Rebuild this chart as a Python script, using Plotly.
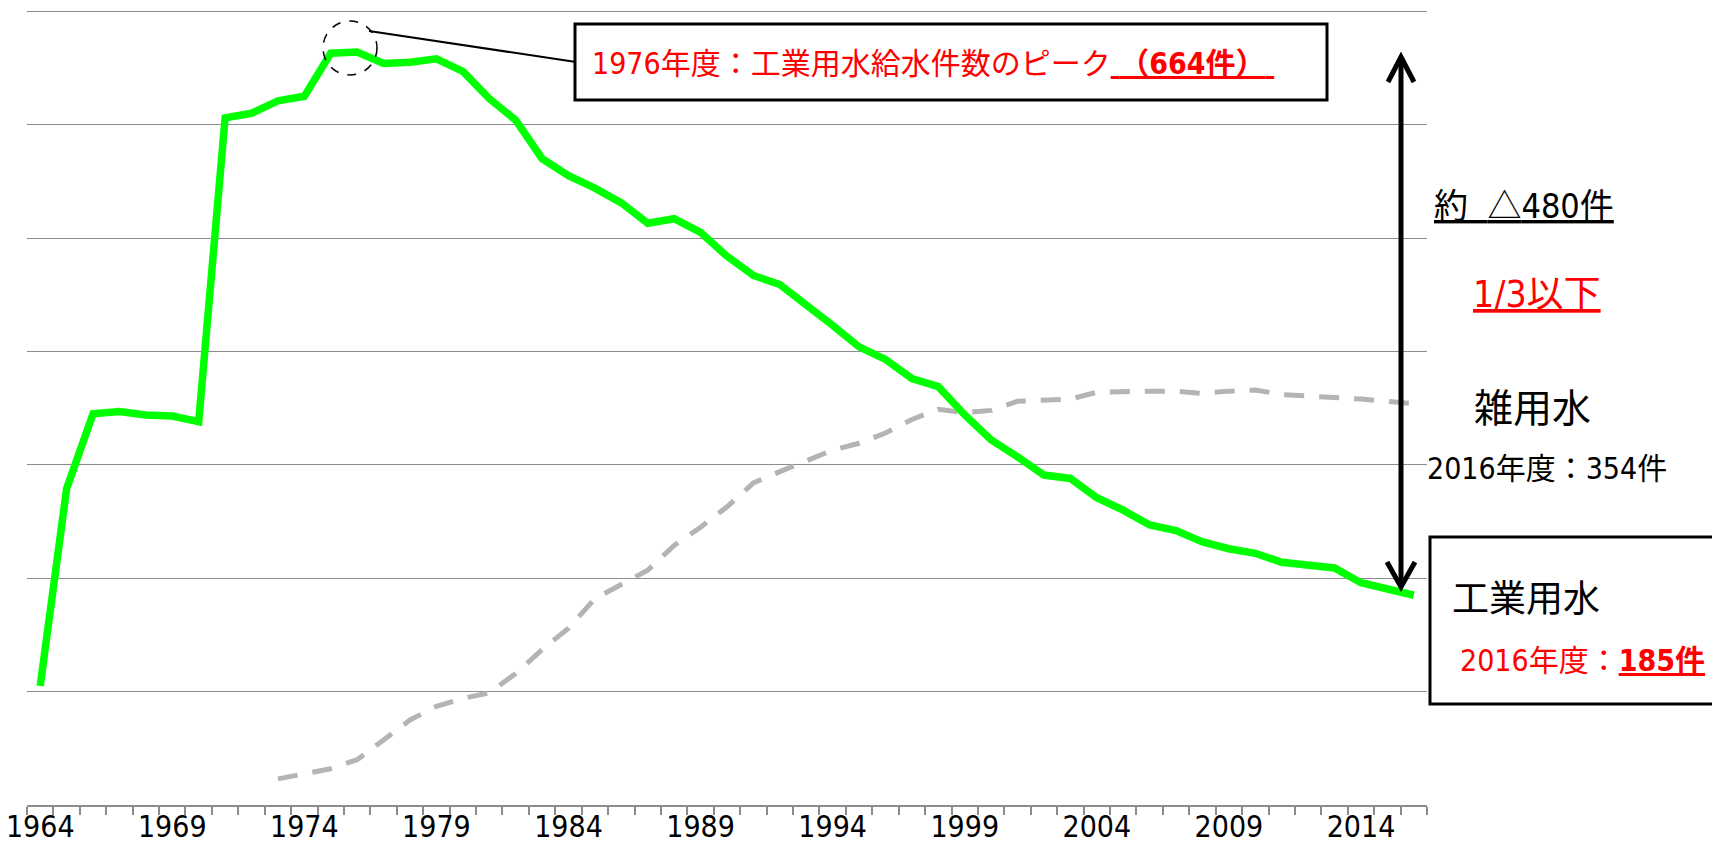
import plotly.graph_objects as go

# 年度 (fiscal years)
years = list(range(1964, 2017))

# 工業用水 給水件数
industrial = [
    105, 279, 345, 347, 344, 343, 338, 606, 610, 621,
    625, 663, 664, 654, 655, 658, 647, 623, 604, 570,
    555, 544, 531, 513, 517, 505, 484, 467, 459, 442,
    423, 404, 393, 376, 369, 344, 322, 307, 291, 288,
    271, 260, 247, 242, 232, 226, 222, 214, 211, 209,
    196, 191, 185,
]

# 雑用水 給水件数 (from 1973)
misc = [None] * 9 + [
    23, 27, 32, 40, 57, 75, 87, 94, 99, 116,
    137, 156, 182, 195, 207, 229, 245, 263, 284, 294,
    304, 313, 319, 328, 340, 349, 346, 348, 356, 357,
    358, 364, 365, 365, 365, 363, 365, 366, 362, 361,
    359, 358, 356, 354,
]

tick_years = list(range(1964, 2015, 5))

FONT = "DejaVu Sans Condensed, Noto Sans CJK JP, sans-serif"
CJK = "Noto Sans CJK JP"
GRID = "#8c8c8c"

W, H = 1712, 855
# plot area in window pixels (page body margin is removed below)
L, R, T, B = 27, 1427, 9, 805


def px(x):
    return (x - L) / (R - L)


def py(y):
    return (B - y) / (B - T)


fig = go.Figure()

fig.add_trace(go.Scatter(
    x=years, y=misc, mode="lines", name="雑用水",
    line=dict(color="#b4b4b4", width=5, dash="20px,15px"),
    connectgaps=False,
))
fig.add_trace(go.Scatter(
    x=years, y=industrial, mode="lines", name="工業用水",
    line=dict(color="#00ff00", width=7.5),
))

shapes = [
    # peak callout box
    dict(type="rect", xref="paper", yref="paper",
         x0=px(575), x1=px(1327), y0=py(100), y1=py(24),
         line=dict(color="black", width=3), fillcolor="white", layer="above"),
    # dashed circle at the peak
    dict(type="circle", xref="paper", yref="paper",
         x0=px(323), x1=px(377), y0=py(75), y1=py(21),
         line=dict(color="black", width=1.5, dash="dash"), layer="above"),
    dict(type="line", xref="paper", yref="paper",
         x0=px(369), y0=py(31), x1=px(576), y1=py(62),
         line=dict(color="black", width=2), layer="above"),
    # double arrow
    dict(type="line", xref="paper", yref="paper",
         x0=px(1401), y0=py(57), x1=px(1401), y1=py(586),
         line=dict(color="black", width=5), layer="above"),
    dict(type="path", xref="paper", yref="paper",
         path=f"M {px(1388)},{py(82)} L {px(1401)},{py(57)} L {px(1414)},{py(82)}",
         line=dict(color="black", width=5), layer="above"),
    dict(type="path", xref="paper", yref="paper",
         path=f"M {px(1387)},{py(562)} L {px(1401)},{py(587)} L {px(1415)},{py(562)}",
         line=dict(color="black", width=5), layer="above"),
    # 2016 industrial box
    dict(type="rect", xref="paper", yref="paper",
         x0=px(1430), x1=px(1716), y0=py(704), y1=py(537),
         line=dict(color="black", width=3), fillcolor="white", layer="above"),
]


def note(text, x, y, size, color="black", anchor="left"):
    return dict(text=text, xref="paper", yref="paper", x=px(x), y=py(y),
                xanchor=anchor, yanchor="middle", showarrow=False,
                font=dict(family=FONT, size=size, color=color))


annotations = [
    note("1976年度：工業用水給水件数のピーク<u>\u00a0<b>（664件）</b>\u00a0</u>",
         590, 64, 30, "red"),
    note(f"<u>約\u00a0\u00a0<span style=\"font-family:{CJK}\">△</span>480件</u>",
         1432, 203, 34),
    note("<u>1/3以下</u>", 1537, 295, 37, "red", "center"),
    note("雑用水", 1472, 408, 39),
    note("2016年度：354件", 1425, 468, 30),
    note("工業用水", 1450, 599, 37),
    note("2016年度：<u><b>185件</b></u>", 1458, 660, 30, "red"),
]

fig.update_layout(
    template="plotly_white",
    width=W,
    height=H,
    margin=dict(l=L, r=W - R, t=T, b=H - B, pad=0),
    showlegend=False,
    plot_bgcolor="white",
    paper_bgcolor="white",
    font=dict(family=FONT, color="black"),
    shapes=shapes,
    annotations=annotations,
)

fig.update_xaxes(
    range=[1963.5, 2016.5],
    tickvals=tick_years,
    ticktext=[str(y) for y in tick_years],
    ticks="outside", ticklen=0, ticklabelstandoff=-6,
    tickfont=dict(family=FONT, size=30, color="black"),
    showgrid=False, zeroline=False, automargin=False,
    showline=True, linecolor=GRID, linewidth=1.5,
    minor=dict(tick0=1963.5, dtick=1, ticks="outside", ticklen=8,
               tickcolor=GRID, tickwidth=1.5, showgrid=False),
)

fig.update_yaxes(
    range=[0, 702], dtick=100,
    showticklabels=False, ticks="",
    showgrid=True, gridcolor=GRID, gridwidth=1.3,
    zeroline=False, showline=False, automargin=False,
)

fig.write_html(
    "out.html",
    config={"displayModeBar": False},
    post_script="document.body.style.margin = '0';",
)
